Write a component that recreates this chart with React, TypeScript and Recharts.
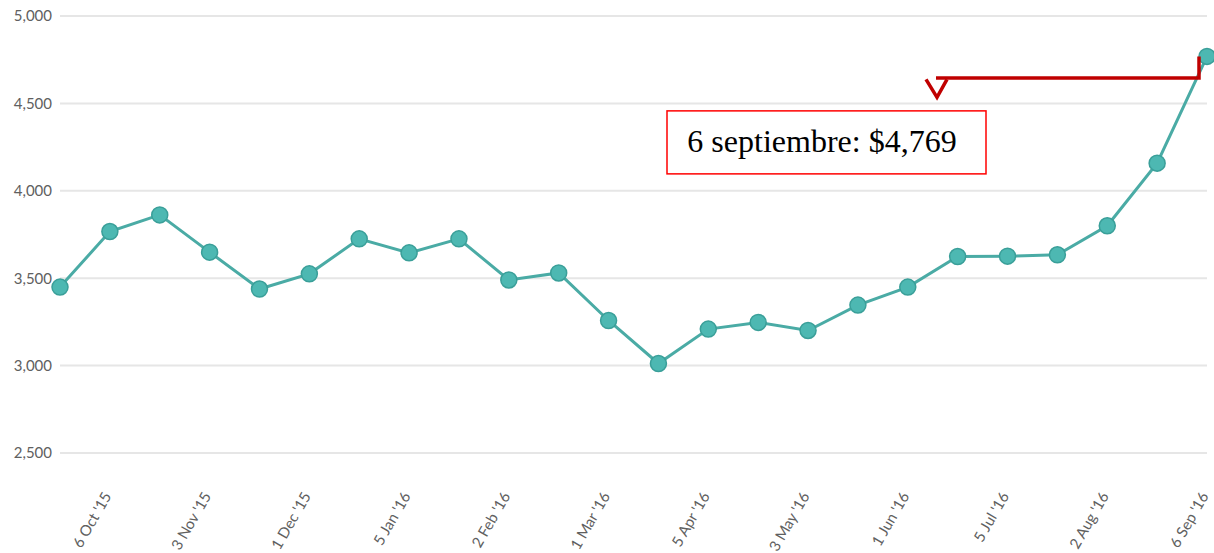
import React from 'react';
import { LineChart, Line, XAxis, YAxis, CartesianGrid, ReferenceDot } from 'recharts';

const categories = [
  "22 Sep '15", "6 Oct '15", "20 Oct '15", "3 Nov '15", "17 Nov '15", "1 Dec '15",
  "15 Dec '15", "5 Jan '16", "19 Jan '16", "2 Feb '16", "16 Feb '16", "1 Mar '16",
  "15 Mar '16", "5 Apr '16", "19 Apr '16", "3 May '16", "17 May '16", "1 Jun '16",
  "21 Jun '16", "5 Jul '16", "19 Jul '16", "2 Aug '16", "23 Aug '16", "6 Sep '16",
];

const values = [
  3449, 3767, 3862, 3649, 3438, 3525,
  3725, 3645, 3725, 3490, 3530, 3258,
  3012, 3209, 3247, 3201, 3346, 3449,
  3624, 3626, 3634, 3800, 4158, 4769,
];

const tickLabels = [
  "6 Oct '15", "3 Nov '15", "1 Dec '15", "5 Jan '16", "2 Feb '16", "1 Mar '16",
  "5 Apr '16", "3 May '16", "1 Jun '16", "5 Jul '16", "2 Aug '16", "6 Sep '16",
];

const yTicks = [2500, 3000, 3500, 4000, 4500, 5000];

const annotationLabel = '6 septiembre: $4,769';

const data = categories.map((c, i) => ({ date: c, value: values[i] }));

const XTick = (props: any) => {
  const { x, y, payload } = props;
  if (!tickLabels.includes(payload.value)) return null;
  const tx = x + 2;
  const ty = y + 35;
  return (
    <text
      x={tx}
      y={ty}
      transform={`rotate(-60 ${tx} ${ty})`}
      textAnchor="end"
      fontSize={15}
      fill="#606060"
      fontFamily="Lato, 'Open Sans', sans-serif"
    >
      {payload.value}
    </text>
  );
};

const Annotation = (props: any) => {
  const { cx, cy } = props;
  const red = '#c00000';
  const lineY = cy + 21.5;
  return (
    <g>
      <path
        d={`M ${cx - 8} ${cy} L ${cx - 8} ${lineY} L ${cx - 271} ${lineY}`}
        stroke={red}
        strokeWidth={3.5}
        fill="none"
      />
      <path
        d={`M ${cx - 281} ${cy + 23} L ${cx - 270} ${cy + 41} L ${cx - 260} ${cy + 23}`}
        stroke={red}
        strokeWidth={3.5}
        fill="none"
      />
      <rect
        x={cx - 540}
        y={cy + 54.5}
        width={319}
        height={63}
        fill="#fff"
        stroke="#ff0000"
        strokeWidth={1.5}
      />
      <text
        x={cx - 385}
        y={cy + 95.5}
        textAnchor="middle"
        fontSize={32}
        fill="#000"
        fontFamily="'Liberation Serif', 'Times New Roman', serif"
      >
        {annotationLabel}
      </text>
    </g>
  );
};

export default function App() {
  return (
    <div style={{ position: 'absolute', left: 0, top: 0, width: 1214, height: 553, background: '#fff' }}>
      <LineChart
        width={1214}
        height={553}
        data={data}
        margin={{ top: 16, right: 7, bottom: 0, left: 0 }}
      >
        <CartesianGrid vertical={false} stroke="#e6e6e6" strokeWidth={2} />
        <XAxis
          dataKey="date"
          interval={0}
          height={100}
          axisLine={false}
          tickLine={false}
          tick={<XTick />}
        />
        <YAxis
          domain={[2500, 5000]}
          ticks={yTicks}
          width={60}
          axisLine={false}
          tickLine={false}
          tickFormatter={(v: number) => v.toLocaleString('en-US')}
          tick={{ fontSize: 15, fill: '#606060', fontFamily: "Lato, 'Open Sans', sans-serif" }}
        />
        <Line
          type="linear"
          dataKey="value"
          stroke="#4aaba5"
          strokeWidth={3}
          isAnimationActive={false}
          dot={{ r: 8, fill: '#4db8b2', stroke: '#3a9f99', strokeWidth: 1.5 }}
          activeDot={false}
        />
        <ReferenceDot
          x={categories[categories.length - 1]}
          y={values[values.length - 1]}
          shape={<Annotation />}
          ifOverflow="visible"
        />
      </LineChart>
    </div>
  );
}
